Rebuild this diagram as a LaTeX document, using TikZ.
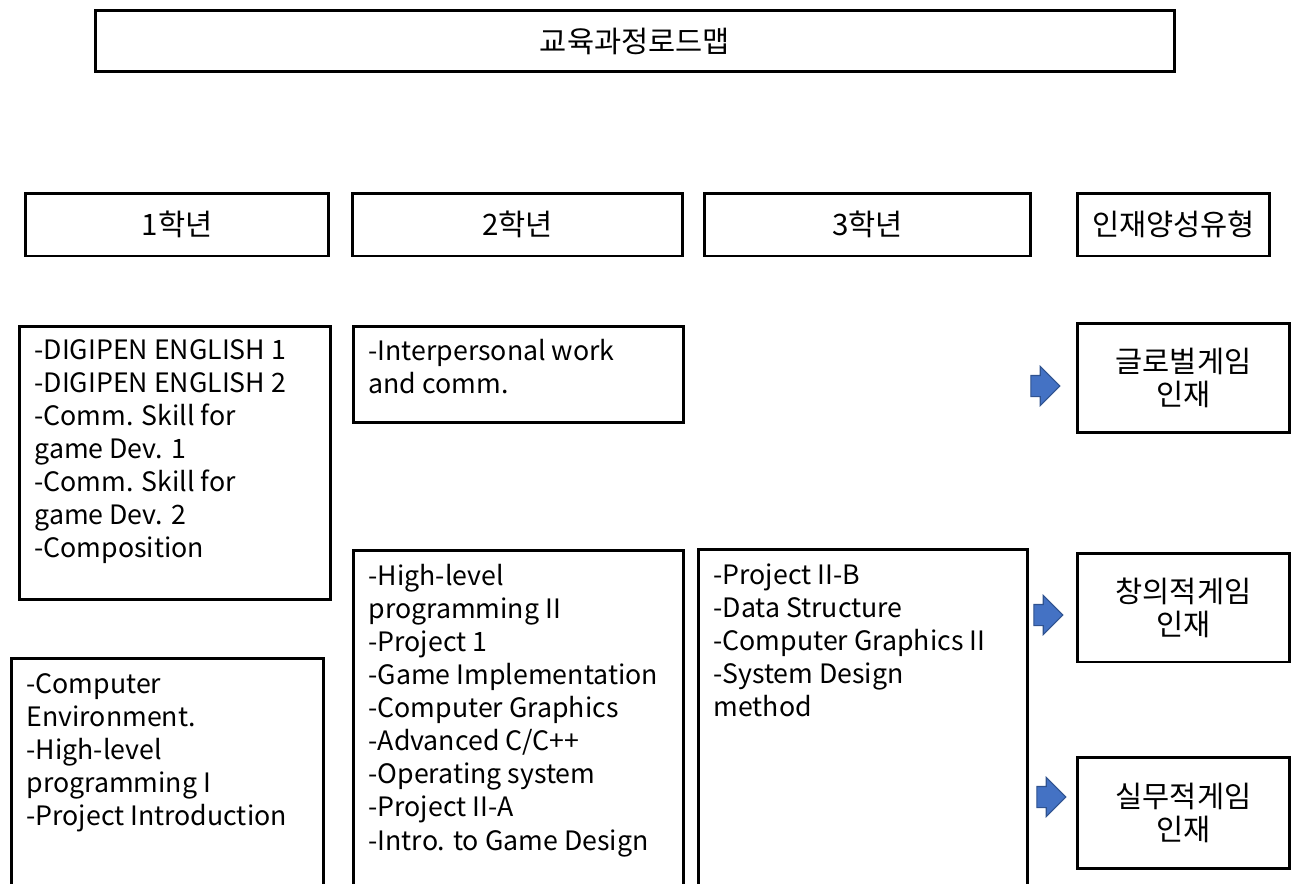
\documentclass[tikz,border=0pt]{standalone}
\usepackage{fontspec}
\setmainfont{Noto Sans CJK KR}
\usepackage{tikz}
\usetikzlibrary{shapes.arrows}

\begin{document}
\begin{tikzpicture}[x=0.02cm, y=-0.02cm, line width=0.06cm,
    box/.style={draw, inner sep=0pt, align=center, font=\fontsize{16.8}{18.8}\selectfont},
    txt/.style={anchor=north west, inner sep=0pt, align=left, font=\fontsize{15.2}{18.8}\selectfont},
    blk/.style={draw, anchor=north west, inner sep=0pt},
    arr/.style={single arrow, fill={rgb,255:red,68;green,114;blue,196}, draw={rgb,255:red,47;green,82;blue,143},
        line width=0.6pt, minimum height=0.58cm, inner xsep=0pt, inner ysep=0.2cm, single arrow head extend=0.18cm}]
    \clip (0,0) rectangle (1295,883);

    % Header row
    \node[box, minimum width=21.6cm, minimum height=1.24cm] (title) at (635,41) {교육과정로드맵};
    \node[box, minimum width=6.08cm, minimum height=1.26cm] (y1) at (177,224.5) {1학년};
    \node[box, minimum width=6.62cm, minimum height=1.26cm] (y2) at (517.5,224.5) {2학년};
    \node[box, minimum width=6.54cm, minimum height=1.26cm] (y3) at (867.5,224.5) {3학년};
    \node[box, minimum width=3.86cm, minimum height=1.26cm] (type) at (1173.5,224.5) {인재양성유형};

    % Course boxes
    \node[blk, minimum width=6.22cm, minimum height=5.46cm] (c1a) at (18,325) {};
    \node[blk, minimum width=6.24cm, minimum height=5cm] (c1b) at (10,657) {};
    \node[blk, minimum width=6.6cm, minimum height=1.92cm] (c2a) at (352,325) {};
    \node[blk, minimum width=6.6cm, minimum height=7cm] (c2b) at (352,549) {};
    \node[blk, minimum width=6.58cm, minimum height=7cm] (c3) at (697,548) {};

    \node[txt] (t1a) at (33,338) {-DIGIPEN ENGLISH 1\\-DIGIPEN ENGLISH 2\\-Comm. Skill for\\game Dev. 1\\-Comm. Skill for\\game Dev. 2\\-Composition};
    \node[txt] (t1b) at (25,672) {-Computer\\Environment.\\-High-level\\programming I\\-Project Introduction};
    \node[txt] (t2a) at (367,338) {-Interpersonal work\\and comm.};
    \node[txt] (t2b) at (367,563) {-High-level\\programming II\\-Project 1\\-Game Implementation\\-Computer Graphics\\-Advanced C/C++\\-Operating system\\-Project II-A\\-Intro. to Game Design};
    \node[txt] (t3) at (712,562) {-Project II-B\\-Data Structure\\-Computer Graphics II\\-System Design\\method};

    % Talent types
    \node[box, minimum width=4.26cm, minimum height=2.2cm] (g1) at (1183.5,378) {글로벌게임\\인재};
    \node[box, minimum width=4.26cm, minimum height=2.18cm] (g2) at (1183.5,607.5) {창의적게임\\인재};
    \node[box, minimum width=4.26cm, minimum height=2.22cm] (g3) at (1183.5,812.5) {실무적게임\\인재};

    \node[arr] (a1) at (1040,386) {};
    \node[arr] (a2) at (1043,615) {};
    \node[arr] (a3) at (1046,797) {};
\end{tikzpicture}
\end{document}
